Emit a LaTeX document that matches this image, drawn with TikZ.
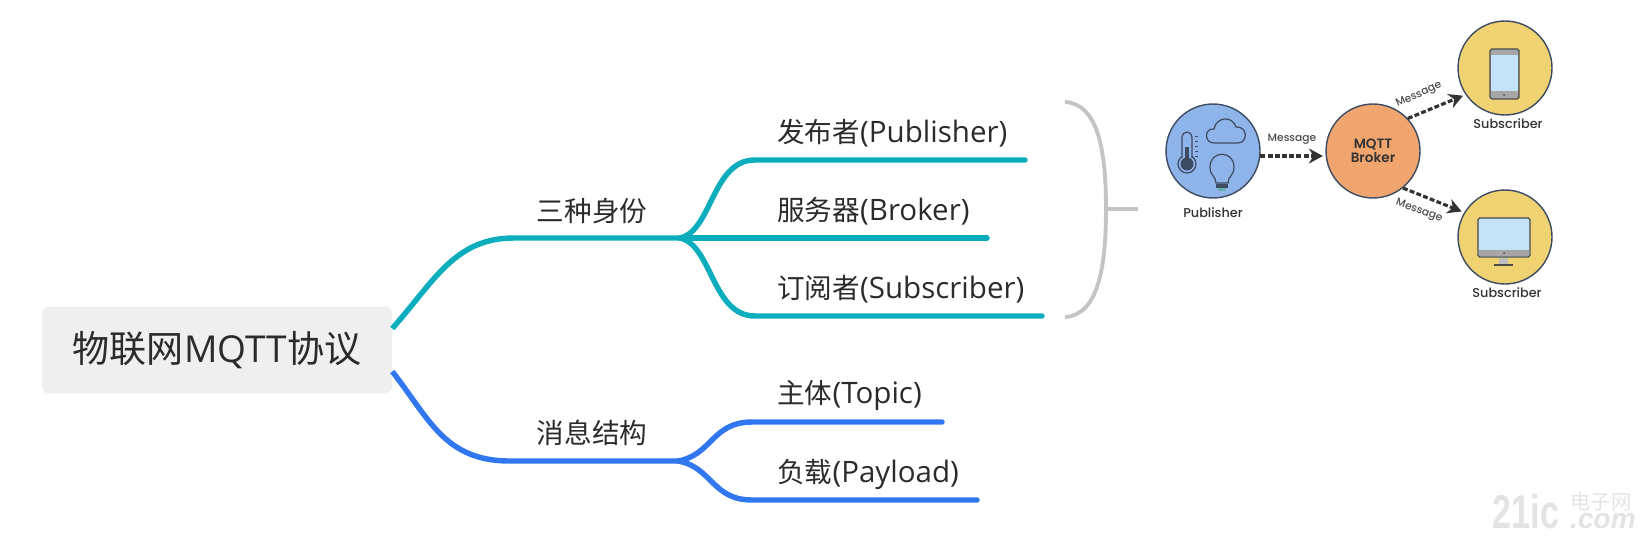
\documentclass[tikz,border=0pt]{standalone}
\usepackage{fontspec}
\setmainfont{Open Sans}
\newfontfamily\cjk[Scale=0.935]{Noto Sans CJK SC}
\newfontfamily\cjkroot{Noto Sans CJK SC}
\newfontfamily\figfont[BoldFont={Poppins SemiBold}]{Poppins Medium}
\newfontfamily\markfont{Liberation Sans}
\usetikzlibrary{arrows.meta}
\definecolor{tealline}{HTML}{0CADBC}
\definecolor{blueline}{HTML}{3178F0}
\definecolor{bracegray}{HTML}{C4C4C4}
\definecolor{rootgray}{HTML}{EFEFEF}
\definecolor{inktext}{HTML}{2B2B2B}
\definecolor{pubblue}{HTML}{8FB4EA}
\definecolor{brkorange}{HTML}{F0A56E}
\definecolor{subyellow}{HTML}{EFD272}
\definecolor{iconink}{HTML}{3D4C63}
\definecolor{screenblue}{HTML}{C5E3F8}
\tikzset{
	branch/.style={line width=3.1pt, line cap=round},
	brace/.style={line width=2.2pt, color=bracegray},
	leaf/.style={anchor=west, inner sep=0pt, text=inktext, font=\fontsize{16.8}{19}\selectfont},
	mid/.style={inner sep=0pt, text=inktext, font=\fontsize{16.8}{19}\selectfont},
	party/.style={circle, draw=iconink, line width=0.8pt, minimum size=1.88cm, inner sep=0pt},
	flow/.style={line width=1.8pt, color=black!80, dash pattern=on 2.8pt off 1.3pt, -{Stealth[length=8pt,width=8.5pt]}, shorten >=1.5pt},
	tiny/.style={inner sep=0pt, text=black!70, font=\figfont\fontsize{6.1}{7}\selectfont},
	partyname/.style={inner sep=0pt, text=black!80, font=\figfont\fontsize{7.3}{8}\selectfont},
	icon/.style={line width=0.7pt, draw=iconink},
	watermark/.style={inner sep=0pt, anchor=base, text=black!11},
}

\begin{document}
\begin{tikzpicture}[x=0.02cm, y=-0.02cm]
	%%%%% START %%%%%
	\useasboundingbox (0, 0) rectangle (1646, 537);

	\node[fill=rootgray, rounded corners=4pt, minimum width=7cm, minimum height=1.74cm, inner sep=0pt, text=inktext, font=\fontsize{21.1}{24}\selectfont] (root) at (217, 350) {\raisebox{-1pt}{{\cjkroot 物联网}MQTT{\cjkroot 协议}}};

	% upper branch
	\node[mid] (idtxt) at (592, 211) {\cjk 三种身份};
	\coordinate (idbend) at (514, 238);
	\coordinate (idfork) at (680, 238);
	\draw[branch, line cap=butt, color=tealline] (root.7.5) .. controls (435, 280) and (455, 238) .. (idbend) -- (idfork);

	\node[leaf] (pubtxt) at (777, 133) {{\cjk 发布者}(Publisher)};
	\node[leaf] (brktxt) at (777, 211) {{\cjk 服务器}(Broker)};
	\node[leaf] (subtxt) at (777, 289) {{\cjk 订阅者}(Subscriber)};
	\coordinate (pubbend) at (755, 160);
	\coordinate (pubend) at (1025, 160);
	\coordinate (brkend) at (987, 238);
	\coordinate (subbend) at (755, 316);
	\coordinate (subend) at (1042, 316);
	\draw[branch, color=tealline] (idfork) .. controls (712, 231) and (712, 160) .. (pubbend) -- (pubend);
	\draw[branch, color=tealline] (idfork) -- (brkend);
	\draw[branch, color=tealline] (idfork) .. controls (712, 245) and (712, 316) .. (subbend) -- (subend);

	% lower branch
	\node[mid] (msgtxt) at (592, 433) {\cjk 消息结构};
	\coordinate (msgbend) at (510, 461);
	\coordinate (msgfork) at (678, 461);
	\draw[branch, line cap=butt, color=blueline] (root.-7.5) .. controls (430, 420) and (445, 461) .. (msgbend) -- (msgfork);

	\node[leaf] (toptxt) at (777, 395) {{\cjk 主体}(Topic)};
	\node[leaf] (paytxt) at (777, 474) {{\cjk 负载}(Payload)};
	\coordinate (topbend) at (752, 422);
	\coordinate (topend) at (942, 422);
	\coordinate (paybend) at (752, 500);
	\coordinate (payend) at (977, 500);
	\draw[branch, color=blueline] (msgfork) .. controls (712, 455) and (712, 422) .. (topbend) -- (topend);
	\draw[branch, color=blueline] (msgfork) .. controls (712, 467) and (712, 500) .. (paybend) -- (payend);

	% brace
	\coordinate (bracetop) at (1065, 102);
	\coordinate (bracemid) at (1106, 209);
	\coordinate (bracebot) at (1065, 317);
	\coordinate (braceend) at (1138, 209);
	\draw[brace] (bracetop) .. controls (1098, 104) and (1106, 150) .. (bracemid) .. controls (1106, 268) and (1098, 315) .. (bracebot);
	\draw[brace] (bracemid) -- (braceend);

	% small picture
	\node[party, fill=pubblue] (pub) at (1213, 151) {};
	\node[party, fill=brkorange, text=black!80, align=center, font=\figfont\bfseries\fontsize{7.7}{8.2}\selectfont] (brk) at (1373, 151) {MQTT\\Broker};
	\node[party, fill=subyellow] (suba) at (1505, 68) {};
	\node[party, fill=subyellow] (subb) at (1505, 237) {};

	\node[partyname] (pubname) at (1213, 213) {Publisher};
	\node[partyname] (subaname) at (1508, 124) {Subscriber};
	\node[partyname] (subbname) at (1507, 293) {Subscriber};

	\draw[flow] (pub.-6) -- (brk.186);
	\draw[flow] (brk.43) -- (suba.214.6);
	\draw[flow] (brk.-51) -- (subb.149.4);

	\node[tiny] (msga) at (1292, 139) {Message};
	\node[tiny, rotate=24] (msgb) at (1419, 95) {Message};
	\node[tiny, rotate=-20] (msgc) at (1419, 211) {Message};

	% thermometer
	\draw[icon] (1187, 164) circle (9);
	\draw[icon, fill=pubblue] (1182, 158) -- (1182, 137) arc (180:360:5) -- (1192, 158);
	\fill[iconink] (1185, 147) rectangle (1189, 162);
	\fill[iconink] (1187, 164) circle (6.5);
	\foreach \ty in {136, 141, ..., 156} {
		\draw[line width=0.4pt, color=iconink] (1195, \ty) -- (1198, \ty);
	}
	% cloud
	\draw[icon] (1214, 143) .. controls (1204, 143) and (1204, 128) .. (1214, 129) .. controls (1216, 117) and (1232, 115) .. (1236, 127) .. controls (1248, 126) and (1248, 143) .. (1238, 143) -- cycle;
	% bulb
	\draw[icon] (1216, 183) .. controls (1216, 176) and (1210, 176) .. (1210, 167) .. controls (1210, 150) and (1234, 150) .. (1234, 167) .. controls (1234, 176) and (1228, 176) .. (1228, 183) -- cycle;
	\fill[iconink] (1216, 184) rectangle (1228, 188);
	\fill[teal!60] (1218, 188) rectangle (1226, 191);

	% phone
	\draw[icon, draw=black!70, fill=black!35, rounded corners=1pt] (1490, 49) rectangle (1519, 99);
	\fill[screenblue] (1491, 55) rectangle (1518, 91);
	\fill[black!70] (1504, 95) circle (1);
	% monitor
	\draw[icon, draw=black!70, fill=screenblue, rounded corners=1pt] (1478, 218) rectangle (1530, 257);
	\fill[black!35] (1479, 250) rectangle (1529, 256);
	\fill[black!70] (1504, 253) circle (1);
	\fill[black!25] (1499, 258) rectangle (1508, 264);
	\draw[icon, draw=black!70] (1494, 265) -- (1513, 265);

	% watermark
	\node[watermark, font=\markfont\bfseries\fontsize{27}{27}\selectfont] (markno) at (1526, 528) {\scalebox{0.72}[1]{21ic}};
	\node[watermark, font=\cjkroot\fontsize{11.5}{12}\selectfont] (markcn) at (1601, 509) {电子网};
	\node[watermark, font=\markfont\bfseries\itshape\fontsize{16}{16}\selectfont] (markcom) at (1603, 528) {.com};
	%%%%% END %%%%%
\end{tikzpicture}
\end{document}
